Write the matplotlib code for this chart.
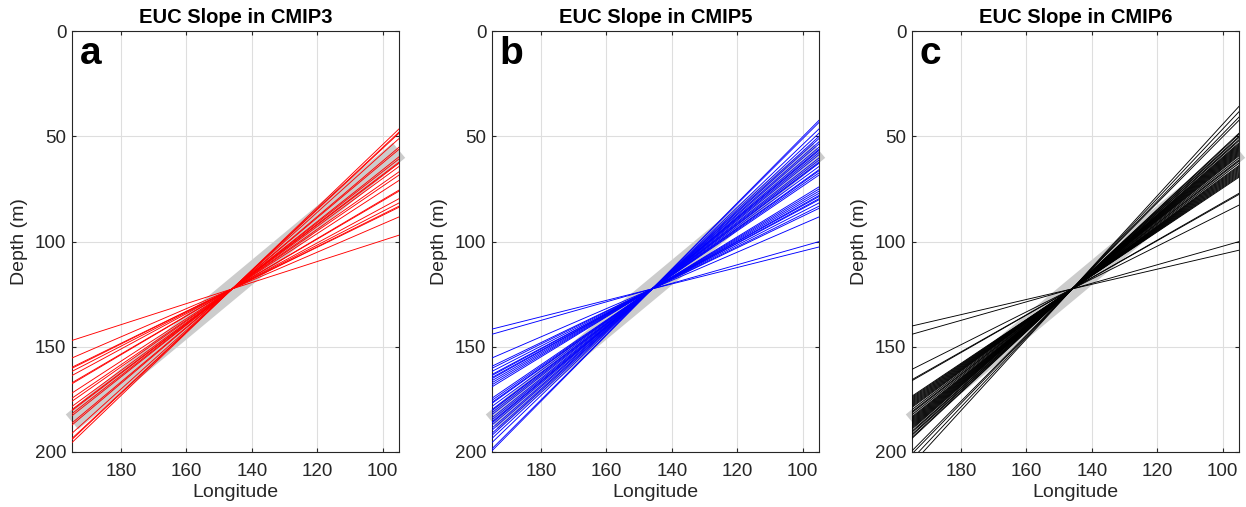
import numpy as np
import matplotlib
matplotlib.use('Agg')
import matplotlib.pyplot as plt

plt.rcParams['font.family'] = ['Liberation Sans', 'DejaVu Sans']

# EUC slope of each model (m per degree longitude), lines pass through a common pivot
cmip3_slopes = [1.49, 1.46, 1.45, 1.40, 1.32, 1.30, 1.23, 1.21, 1.18, 1.17, 1.14,
                1.09, 1.06, 1.01, 0.92, 0.91, 0.84, 0.80, 0.77, 0.76, 0.67, 0.50]
cmip5_slopes = [1.57, 1.55, 1.49, 1.45, 1.42, 1.40, 1.37, 1.35, 1.32, 1.30, 1.29, 1.27,
                1.25, 1.22, 1.20, 1.18, 1.17, 1.14, 1.11, 1.10, 1.08, 1.06, 0.95, 0.93,
                0.91, 0.89, 0.87, 0.86, 0.84, 0.83, 0.80, 0.77, 0.75, 0.67, 0.44, 0.39]
cmip6_slopes = [1.70, 1.65, 1.60, 1.57, 1.45, 1.44, 1.42, 1.41, 1.39, 1.38, 1.36, 1.35,
                1.34, 1.33, 1.32, 1.31, 1.30, 1.29, 1.28, 1.27, 1.26, 1.25, 1.24, 1.22,
                1.20, 1.19, 1.17, 1.15, 1.14, 1.13, 1.12, 1.11, 1.10, 1.09, 1.08, 1.07,
                1.06, 1.05, 1.04, 0.89, 0.88, 0.78, 0.44, 0.36]
obs_slope = 1.29  # grey reference line

pivot_lon = 146
pivot_depth = 122.5
lon_range = [195, 95]

titles = ['EUC Slope in CMIP3', 'EUC Slope in CMIP5', 'EUC Slope in CMIP6']
panel_letters = ['a', 'b', 'c']
colors = ['red', 'blue', 'black']
all_slopes = [cmip3_slopes, cmip5_slopes, cmip6_slopes]

axis_col = (0.15, 0.15, 0.15)

fig = plt.figure(figsize=(12.46, 5.07), dpi=100)
W, H = 1246, 507

lon = np.array(lon_range, dtype=float)

for i in range(3):
    ax = fig.add_axes([(72 + 420 * i) / W, 55 / H, 327 / W, 421 / H])

    # grey reference slope, drawn past the axes edge like the original
    ax.plot(lon, pivot_depth + obs_slope * (lon - pivot_lon), color=(0.8, 0.8, 0.8),
            lw=14, solid_capstyle='butt', clip_on=False, zorder=2)

    for s in all_slopes[i]:
        ax.plot(lon, pivot_depth + s * (lon - pivot_lon), color=colors[i], lw=0.65, zorder=3)

    ax.set_xlim(195, 95)
    ax.set_ylim(200, 0)
    ax.set_xticks([180, 160, 140, 120, 100])
    ax.set_yticks([0, 50, 100, 150, 200])
    ax.grid(True, color='#dedede', lw=0.8, zorder=0)
    ax.set_axisbelow(True)

    ax.tick_params(direction='in', top=True, right=True, length=3, width=0.8,
                   colors=axis_col, labelsize=13.5)
    ax.tick_params(axis='x', pad=8)
    ax.tick_params(axis='y', pad=4)
    for sp in ax.spines.values():
        sp.set_color(axis_col)
        sp.set_linewidth(0.8)

    ax.set_title(titles[i], fontsize=14.5, fontweight='bold', pad=6)
    ax.set_xlabel('Longitude', fontsize=14, color=axis_col, labelpad=3)
    ax.set_ylabel('Depth (m)', fontsize=14, color=axis_col, labelpad=5)
    ax.text(0.024, 0.922, panel_letters[i], transform=ax.transAxes, fontsize=28,
            fontweight='bold', va='baseline', ha='left')

plt.savefig('out.png', dpi=100)
